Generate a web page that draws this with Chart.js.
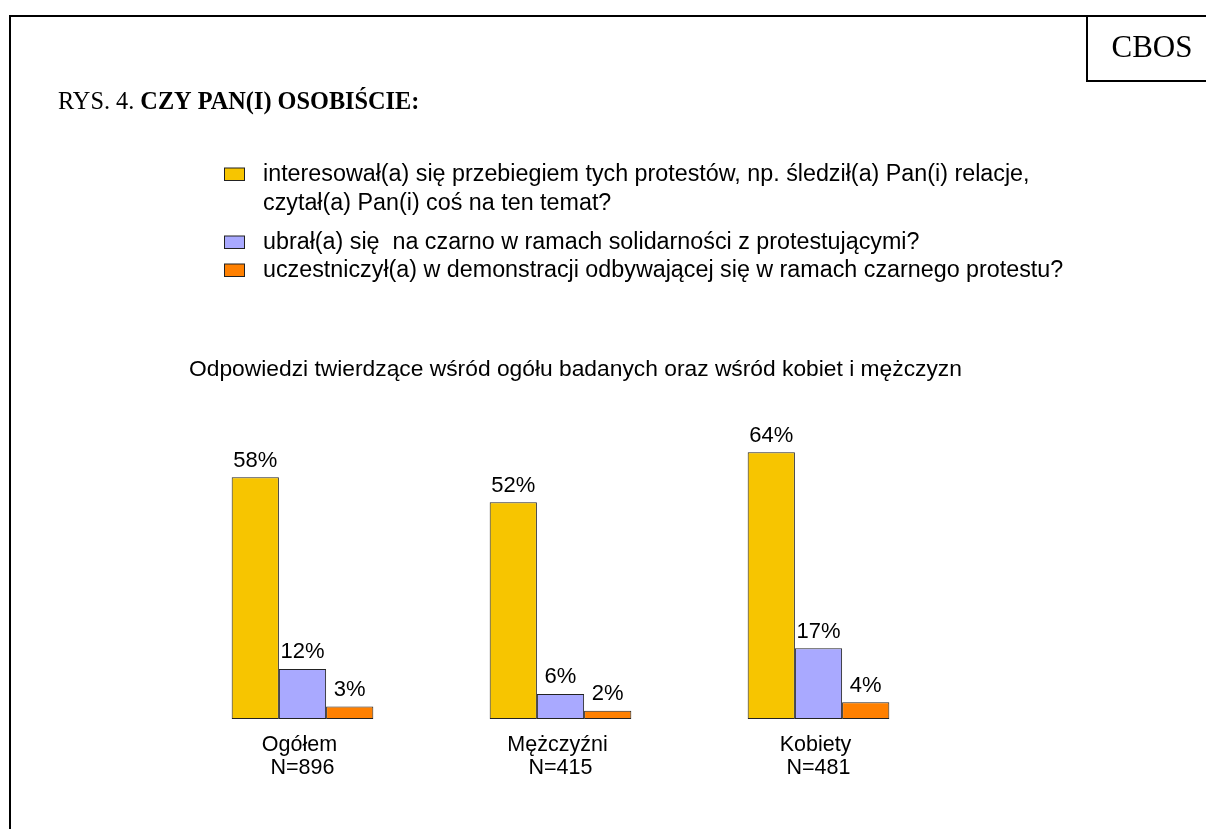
<!DOCTYPE html>
<html>
<head>
<meta charset="utf-8">
<script src="https://cdn.jsdelivr.net/npm/chart.js@4.4.1/dist/chart.umd.min.js"></script>
<style>
  html, body { margin: 0; padding: 0; background: #ffffff; }
  #wrap { width: 1206px; height: 829px; position: relative; }
</style>
</head>
<body>
<div id="wrap"><canvas id="c" width="1206" height="829"></canvas></div>
<script>
// ---- data ----
const categories = [["Ogółem ", "N=896"], ["Mężczyźni ", "N=415"], ["Kobiety ", "N=481"]];
const seriesNames = [
  "interesował(a) się przebiegiem tych protestów, np. śledził(a) Pan(i) relacje, czytał(a) Pan(i) coś na ten temat?",
  "ubrał(a) się  na czarno w ramach solidarności z protestującymi?",
  "uczestniczył(a) w demonstracji odbywającej się w ramach czarnego protestu?"
];
const legendLines = [
  ["interesował(a) się przebiegiem tych protestów, np. śledził(a) Pan(i) relacje,", "czytał(a) Pan(i) coś na ten temat?"],
  ["ubrał(a) się  na czarno w ramach solidarności z protestującymi?"],
  ["uczestniczył(a) w demonstracji odbywającej się w ramach czarnego protestu?"]
];
const interested = [58, 52, 64];
const woreBlack = [12, 6, 17];
const demonstrated = [3, 2, 4];
const seriesColors = ["#F7C500", "#A9A9FF", "#FF8000"];
const chartTitle = "Odpowiedzi twierdzące wśród ogółu badanych oraz wśród kobiet i mężczyzn";
const figureLabel = "RYS. 4. ";
const figureQuestion = "CZY PAN(I) OSOBIŚCIE:";
const sourceLabel = "CBOS";

const SANS = '"Liberation Sans", Arial, sans-serif';
const SERIF = '"Liberation Serif", "Times New Roman", serif';

const decorPlugin = {
  id: 'decor',
  beforeDraw(chart) {
    const ctx = chart.ctx;
    ctx.save();
    ctx.fillStyle = '#ffffff';
    ctx.fillRect(0, 0, chart.width, chart.height);
    ctx.restore();
  },
  afterDraw(chart) {
    const ctx = chart.ctx;
    ctx.save();
    // frame
    ctx.strokeStyle = '#000000';
    ctx.lineWidth = 2;
    ctx.beginPath();
    ctx.moveTo(10, 829);
    ctx.lineTo(10, 16);
    ctx.lineTo(1206, 16);
    ctx.stroke();
    // CBOS box
    ctx.beginPath();
    ctx.moveTo(1087, 16);
    ctx.lineTo(1087, 81);
    ctx.lineTo(1206, 81);
    ctx.stroke();
    ctx.fillStyle = '#000000';
    ctx.font = '31px ' + SERIF;
    ctx.textAlign = 'center';
    ctx.textBaseline = 'alphabetic';
    ctx.fillText(sourceLabel, 1152, 57);

    // figure heading
    ctx.textAlign = 'left';
    ctx.font = '24.3px ' + SERIF;
    ctx.fillText(figureLabel, 58, 108.5);
    const w = ctx.measureText(figureLabel).width;
    ctx.font = 'bold 24.3px ' + SERIF;
    ctx.fillText(figureQuestion, 58 + w, 108.5);

    // legend
    const baselines = [[181, 210.3], [249], [277]];
    ctx.font = '23.3px ' + SANS;
    chart.data.datasets.forEach((ds, i) => {
      const bl = baselines[i];
      ctx.fillStyle = ds.backgroundColor;
      ctx.fillRect(224.5, bl[0] - 13, 20, 12.5);
      ctx.lineWidth = 1;
      ctx.strokeStyle = '#222222';
      ctx.strokeRect(224.5, bl[0] - 13, 20, 12.5);
      ctx.fillStyle = '#000000';
      legendLines[i].forEach((line, j) => {
        ctx.fillText(line, 263, bl[j]);
      });
    });

    // chart title
    ctx.font = '22.8px ' + SANS;
    ctx.fillText(chartTitle, 189, 376);

    // data labels
    ctx.textAlign = 'center';
    ctx.font = '22px ' + SANS;
    chart.data.datasets.forEach((ds, i) => {
      const meta = chart.getDatasetMeta(i);
      meta.data.forEach((bar, j) => {
        ctx.fillText(ds.data[j] + '%', bar.x, bar.y - 10.5);
      });
    });
    ctx.restore();
  }
};

new Chart(document.getElementById('c'), {
  type: 'bar',
  data: {
    labels: categories,
    datasets: [
      { label: seriesNames[0], data: interested, backgroundColor: seriesColors[0] },
      { label: seriesNames[1], data: woreBlack, backgroundColor: seriesColors[1] },
      { label: seriesNames[2], data: demonstrated, backgroundColor: seriesColors[2] }
    ]
  },
  options: {
    responsive: false,
    devicePixelRatio: 1,
    animation: false,
    layout: { padding: { left: 173.5, right: 258.5, top: 427.3, bottom: 0 } },
    datasets: {
      bar: {
        categoryPercentage: 0.549,
        barPercentage: 1.0,
        borderColor: '#222222',
        borderWidth: 1,
        borderSkipped: false
      }
    },
    plugins: {
      legend: { display: false },
      title: { display: false },
      tooltip: { enabled: false }
    },
    scales: {
      x: {
        grid: { display: false, drawTicks: false },
        border: { display: false },
        ticks: {
          padding: 14.5,
          color: '#000000',
          font: { family: SANS, size: 21.5, lineHeight: 1.08 },
          maxRotation: 0,
          autoSkip: false
        },
        afterFit(scale) { scale.height = 110; }
      },
      y: {
        display: false,
        min: 0,
        max: 70
      }
    }
  },
  plugins: [decorPlugin]
});
</script>
</body>
</html>
